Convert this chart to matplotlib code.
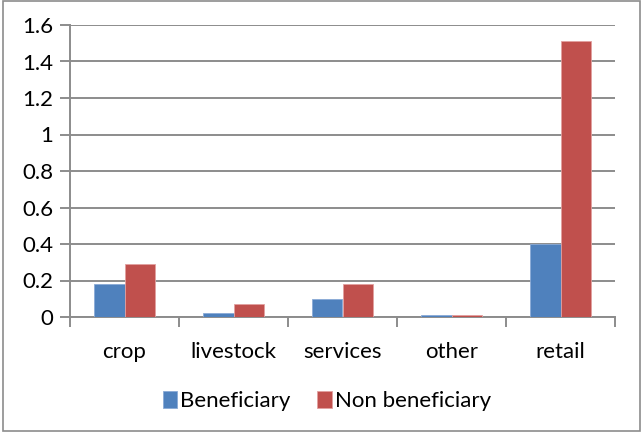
import numpy as np
import matplotlib.pyplot as plt
from matplotlib.patches import Rectangle

categories = ["crop", "livestock", "services", "other", "retail"]
beneficiary = [0.18, 0.02, 0.10, 0.01, 0.40]
non_beneficiary = [0.29, 0.07, 0.18, 0.01, 1.51]

plt.rcParams['font.family'] = ['Lato', 'DejaVu Sans']

fig = plt.figure(figsize=(6.43, 4.33), dpi=100)
ax = fig.add_axes([70 / 643, 1 - 317 / 433, 545 / 643, 292 / 433])

x = np.arange(len(categories))
w = 0.28
ax.bar(x - w / 2, beneficiary, w, color="#4F81BD", edgecolor="#8aaad6",
       linewidth=0.6, label="Beneficiary", zorder=3)
ax.bar(x + w / 2, non_beneficiary, w, color="#C0504D", edgecolor="#e2a0a0",
       linewidth=0.6, label="Non beneficiary", zorder=3)

ax.set_xlim(-0.5, len(categories) - 0.5)
ax.set_ylim(0, 1.6)
ax.set_yticks(np.arange(0, 1.61, 0.2))
ax.set_yticklabels(["0", "0.2", "0.4", "0.6", "0.8", "1", "1.2", "1.4", "1.6"])
ax.yaxis.grid(True, color="#8c8c8c", linewidth=1.4, zorder=0)
ax.set_axisbelow(True)

# category labels centred, tick marks on the boundaries between groups
ax.set_xticks(x)
ax.set_xticklabels(categories)
ax.tick_params(axis="x", length=0, pad=18, labelsize=16)
ax.set_xticks(np.arange(-0.5, len(categories)), minor=True)
ax.tick_params(axis="x", which="minor", length=7, width=1.4, color="#8c8c8c")
ax.tick_params(axis="y", length=7, width=1.4, color="#8c8c8c", labelsize=16, pad=5)

for side in ["top", "right"]:
    ax.spines[side].set_visible(False)
for side in ["left", "bottom"]:
    ax.spines[side].set_color("#8c8c8c")
    ax.spines[side].set_linewidth(1.4)

# legend sits centred on the whole figure, not the plot area
fig.legend(loc="center", bbox_to_anchor=(327 / 643, 1 - 401 / 433), ncol=2,
           frameon=False, fontsize=16, handlelength=0.65, handleheight=0.8,
           handletextpad=0.15, columnspacing=1.2)

fig.patches.append(Rectangle((3 / 643, 2 / 433), 637 / 643, 430 / 433,
                             transform=fig.transFigure, fill=False,
                             edgecolor="#8c8c8c", linewidth=1.2))

fig.savefig("out.png", dpi=100)
